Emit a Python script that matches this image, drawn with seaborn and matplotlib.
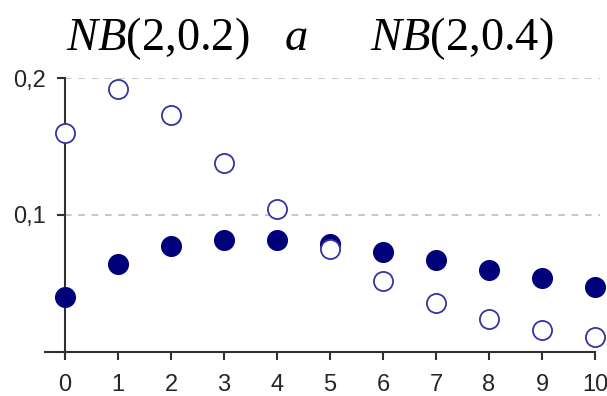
import matplotlib
matplotlib.use("Agg")
import matplotlib.pyplot as plt
import seaborn as sns
import pandas as pd

# Probabilities of the two negative binomial distributions, k = 0..10
k_values = [0, 1, 2, 3, 4, 5, 6, 7, 8, 9, 10]
nb_02 = [0.040, 0.064, 0.077, 0.082, 0.082, 0.079, 0.073, 0.067, 0.060, 0.054, 0.047]
nb_04 = [0.160, 0.192, 0.173, 0.138, 0.104, 0.075, 0.052, 0.036, 0.024, 0.016, 0.011]
y_ticks = [0.1, 0.2]
y_tick_labels = ["0,1", "0,2"]

df = pd.DataFrame({"k": k_values, "p02": nb_02, "p04": nb_04})

sns.set_theme(style="white")
plt.rcParams["font.family"] = ["Liberation Sans Narrow", "Liberation Sans", "DejaVu Sans"]
plt.rcParams["mathtext.fontset"] = "custom"
plt.rcParams["mathtext.it"] = "Liberation Serif:italic"
plt.rcParams["mathtext.rm"] = "Liberation Serif"

fig = plt.figure(figsize=(6.07, 3.96), dpi=100)
ax = fig.add_axes([45 / 607, 38 / 396, 555 / 607, 280 / 396])

navy = "#00007a"
ring = "#3434a6"

sns.scatterplot(data=df, x="k", y="p02", ax=ax, color=navy, edgecolor=navy,
                s=200, linewidth=1.0, clip_on=False, zorder=3)
sns.scatterplot(data=df, x="k", y="p04", ax=ax, color="white", edgecolor=ring,
                s=190, linewidth=1.3, clip_on=False, zorder=4)

x_left, x_right = -0.377, 10.094
ax.set_xlim(x_left, x_right)
ax.set_ylim(-0.0045, 0.2)

# dashed horizontal guides starting at the vertical axis
ax.hlines(y_ticks, 0, x_right, colors="#bdbdbd", linestyles=(0, (4, 4)),
          linewidth=1.2, zorder=1)

for side in ("top", "right"):
    ax.spines[side].set_visible(False)
ax.spines["left"].set_position(("data", 0))
ax.spines["bottom"].set_position(("data", 0))
ax.spines["left"].set_bounds(-0.0045, 0.2)
ax.spines["bottom"].set_bounds(x_left, 10)
for side in ("left", "bottom"):
    ax.spines[side].set_color("#303030")
    ax.spines[side].set_linewidth(1.5)

ax.set_xticks(k_values)
ax.set_xticklabels([str(v) for v in k_values])
ax.set_yticks(y_ticks)
ax.set_yticklabels(y_tick_labels)
ax.tick_params(axis="x", direction="out", length=5.5, width=1.5, color="#303030",
               pad=10.5, labelsize=17, labelcolor="#262626", bottom=True)
ax.tick_params(axis="y", direction="out", length=6, width=1.5, color="#303030",
               pad=8, labelsize=17, labelcolor="#262626", left=True)
ax.set_xlabel("")
ax.set_ylabel("")

title_kw = dict(fontsize=33.5, family="Liberation Serif", va="baseline", ha="left",
                color="black")
fig.text(66 / 607, 1 - 50 / 396, r"$NB$(2,0.2)", **title_kw)
fig.text(284 / 607, 1 - 50 / 396, r"$a$", **title_kw)
fig.text(370 / 607, 1 - 50 / 396, r"$NB$(2,0.4)", **title_kw)

fig.savefig("out.png", dpi=100)
